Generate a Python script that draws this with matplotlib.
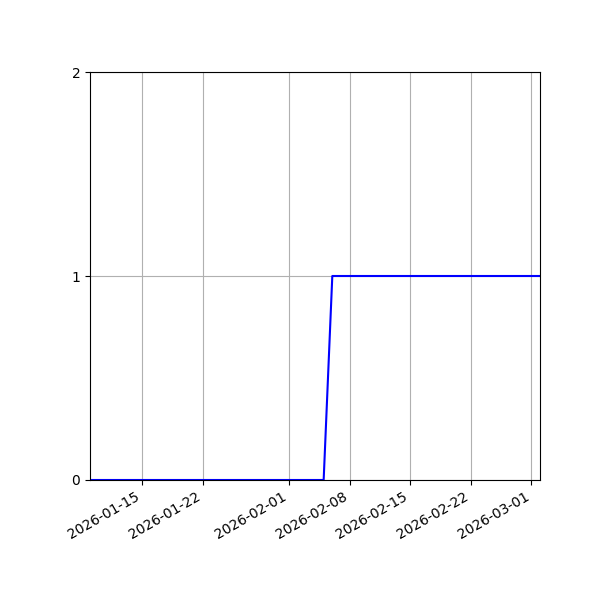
import matplotlib
matplotlib.use("Agg")
import matplotlib.pyplot as plt
import pandas as pd

dates = pd.date_range("2026-01-09", "2026-03-02", freq="D")
values = [0] * 0 + [
    0, 0, 0, 0, 0, 0, 0, 0, 0, 0,
    0, 0, 0, 0, 0, 0, 0, 0, 0, 0,
    0, 0, 0, 0, 0, 0, 0, 0,
    1, 1, 1, 1, 1, 1, 1, 1, 1, 1,
    1, 1, 1, 1, 1, 1, 1, 1, 1, 1,
    1, 1, 1, 1, 1,
]
y_ticks = [0, 1, 2]

fig, ax = plt.subplots(figsize=(6, 6), dpi=100)
fig.subplots_adjust(left=0.15, right=0.9, top=0.88, bottom=0.2)
ax.plot(dates, values, color="b")
ax.set_xlim(dates[0], dates[-1])
ax.set_ylim(0, 2)
ax.set_yticks(y_ticks)
ax.grid(True)
fig.autofmt_xdate()
fig.subplots_adjust(left=0.15, right=0.9, top=0.88, bottom=0.2)
fig.savefig("out.png", dpi=100)
